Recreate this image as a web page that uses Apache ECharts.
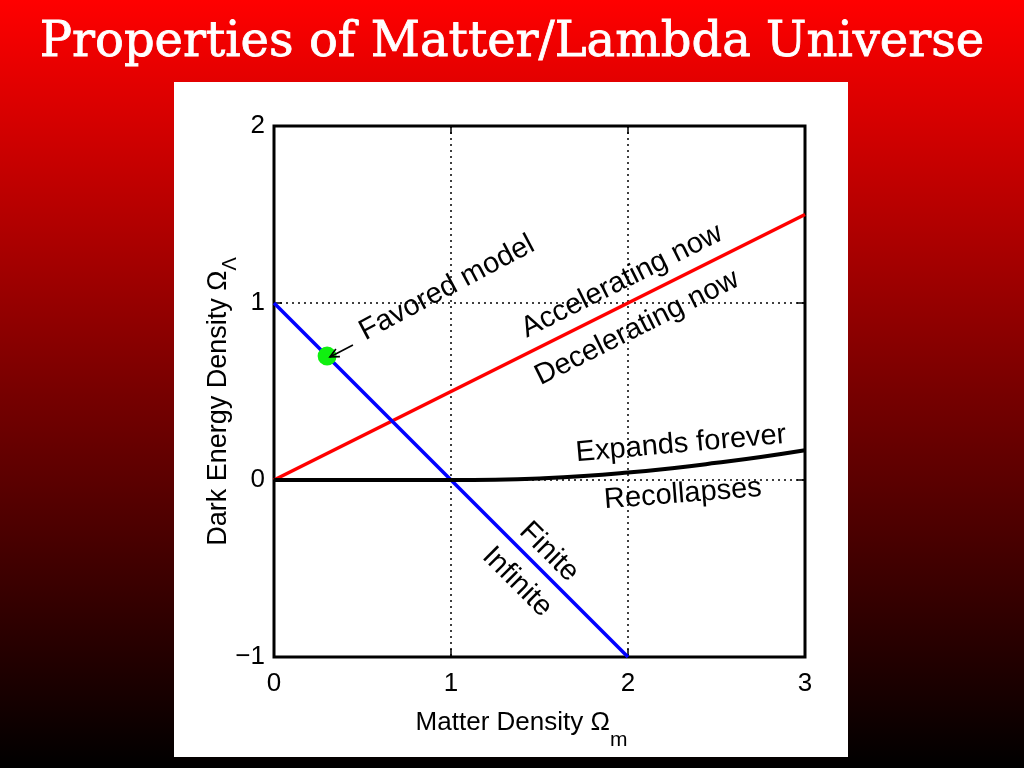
<!DOCTYPE html>
<html><head><meta charset="utf-8">
<script src="https://cdn.jsdelivr.net/npm/echarts@6/dist/echarts.min.js"></script>
<style>html,body{margin:0;padding:0;width:1024px;height:768px;overflow:hidden}#c{width:1024px;height:768px}</style>
</head><body><div id="c"></div>
<script>
const titleText = 'Properties of Matter/Lambda Universe';
const xAxisTitle = 'Matter Density Ω';
const xAxisSub = 'm';
const yAxisTitle = 'Dark Energy Density Ω';
const yAxisSub = 'Λ';
const xTickValues = [0, 1, 2, 3];
const yTickValues = [-1, 0, 1, 2];
const accelerationBoundary = [[0, 0], [3, 1.5]];
const flatnessBoundary = [[0, 1], [2, -1]];
const expansionBoundary = [[0, 0], [1, 0], [1.25, 0.002], [1.5, 0.009], [1.75, 0.022], [2, 0.042], [2.25, 0.067], [2.5, 0.097], [2.75, 0.130], [3, 0.168]];
const favoredModel = [[0.3, 0.7]];
const favoredArrow = [[0.446, 0.763, 0.316, 0.695]];
const annotationTexts = ['Favored model', 'Accelerating now', 'Decelerating now', 'Expands forever', 'Recollapses', 'Finite', 'Infinite'];
const annotationAnchors = [[0.977, 1.085], [1.966, 1.124], [2.051, 0.859], [2.30, 0.203], [2.31, -0.08], [1.554, -0.407], [1.373, -0.576]];
const annotationAngles = [28, 26.6, 26.6, 5, 4.5, -45, -45];

const FONT = 'Liberation Sans';
const chart = echarts.init(document.getElementById('c'), null, {renderer: 'canvas'});
const fmtTick = v => String(v).replace('-', '\u2212');
const mkAxis = (pos, ticks, showLabel, extra) => Object.assign({
  type: 'value', position: pos,
  min: ticks[0], max: ticks[ticks.length - 1], interval: 1,
  axisLine: {show: false, onZero: false},
  axisTick: {show: true, inside: true, length: 8, lineStyle: {color: '#000', width: 1.5}},
  axisLabel: {show: showLabel, color: '#000', fontFamily: FONT, fontSize: 26, formatter: fmtTick},
  splitLine: {show: showLabel, lineStyle: {color: '#000', width: 1.5, type: [2, 4]}}
}, extra || {});

const option = {
  animation: false,
  backgroundColor: new echarts.graphic.LinearGradient(0, 0, 0, 1, [
    {offset: 0, color: '#ff0000'}, {offset: 0.5, color: '#7a0000'}, {offset: 1, color: '#000000'}
  ]),
  title: {
    text: titleText, left: 'center', top: 15,
    textStyle: {color: '#ffffff', fontFamily: 'DejaVu Serif', fontSize: 48, fontWeight: 'normal',
      textBorderColor: '#ffffff', textBorderWidth: 0.8}
  },
  graphic: [{type: 'rect', z: -100, silent: true, shape: {x: 174, y: 82, width: 674, height: 675}, style: {fill: '#ffffff'}}],
  grid: {left: 274, top: 126, width: 531, height: 531, show: true, borderColor: '#000', borderWidth: 3, backgroundColor: 'transparent'},
  xAxis: [
    mkAxis('bottom', xTickValues, true, {
      axisLabel: {show: true, color: '#000', fontFamily: FONT, fontSize: 26, margin: 14, formatter: fmtTick},
      name: '{a|' + xAxisTitle + '}{b|' + xAxisSub + '}', nameLocation: 'middle', nameGap: 53,
      nameTextStyle: {color: '#000', fontFamily: FONT, padding: [0, 36, 0, 0],
        rich: {a: {fontSize: 26, fontFamily: FONT, color: '#000', verticalAlign: 'top', lineHeight: 28},
               b: {fontSize: 21, fontFamily: FONT, color: '#000', verticalAlign: 'top', lineHeight: 24, padding: [20, 0, 0, 0]}}}
    }),
    mkAxis('top', xTickValues, false)
  ],
  yAxis: [
    mkAxis('left', yTickValues, true, {
      axisLabel: {show: true, color: '#000', fontFamily: FONT, fontSize: 26, margin: 9, formatter: fmtTick},
      name: '{a|' + yAxisTitle + '}{b|' + yAxisSub + '}', nameLocation: 'middle', nameGap: 40, nameRotate: 90,
      nameMoveOverlap: false,
      nameTextStyle: {color: '#000', fontFamily: FONT, padding: [0, 20, 0, 0],
        rich: {a: {fontSize: 27, fontFamily: FONT, color: '#000', verticalAlign: 'top', lineHeight: 29},
               b: {fontSize: 20, fontFamily: FONT, color: '#000', verticalAlign: 'top', lineHeight: 22, padding: [15, 0, 0, 0]}}}
    }),
    mkAxis('right', yTickValues, false)
  ],
  series: [
    {type: 'line', data: accelerationBoundary, symbol: 'none', lineStyle: {color: '#ff0000', width: 3.5}, z: 3},
    {type: 'line', data: flatnessBoundary, symbol: 'none', lineStyle: {color: '#0000ff', width: 3.5}, z: 3},
    {type: 'line', data: expansionBoundary, symbol: 'none', smooth: 0.5, lineStyle: {color: '#000', width: 4}, z: 3},
    {type: 'scatter', data: favoredModel, symbol: 'circle', symbolSize: 19, itemStyle: {color: '#10f010', opacity: 1}, z: 4},
    {type: 'custom', z: 6, silent: true, data: favoredArrow, encode: {x: [0, 2], y: [1, 3]},
      renderItem: (params, api) => {
        const a = api.coord([api.value(0), api.value(1)]);
        const b = api.coord([api.value(2), api.value(3)]);
        const ang = Math.atan2(b[1] - a[1], b[0] - a[0]);
        const L = 10, spread = 0.45;
        const h1 = [b[0] - L * Math.cos(ang - spread), b[1] - L * Math.sin(ang - spread)];
        const h2 = [b[0] - L * Math.cos(ang + spread), b[1] - L * Math.sin(ang + spread)];
        const st = {stroke: '#000', lineWidth: 1.6, fill: null};
        return {type: 'group', children: [
          {type: 'line', shape: {x1: a[0], y1: a[1], x2: b[0], y2: b[1]}, style: st},
          {type: 'polyline', shape: {points: [h1, b, h2]}, style: st}
        ]};
      }},
    {type: 'custom', z: 5, silent: true, data: annotationAnchors, encode: {x: 0, y: 1},
      renderItem: (params, api) => {
        const p = api.coord([api.value(0), api.value(1)]);
        const i = params.dataIndex;
        return {type: 'text', x: p[0], y: p[1], rotation: annotationAngles[i] * Math.PI / 180,
          style: {text: annotationTexts[i], fill: '#000', fontFamily: FONT, fontSize: 29, align: 'center', verticalAlign: 'middle'}};
      }}
  ]
};
chart.setOption(option);
</script>
</body></html>
